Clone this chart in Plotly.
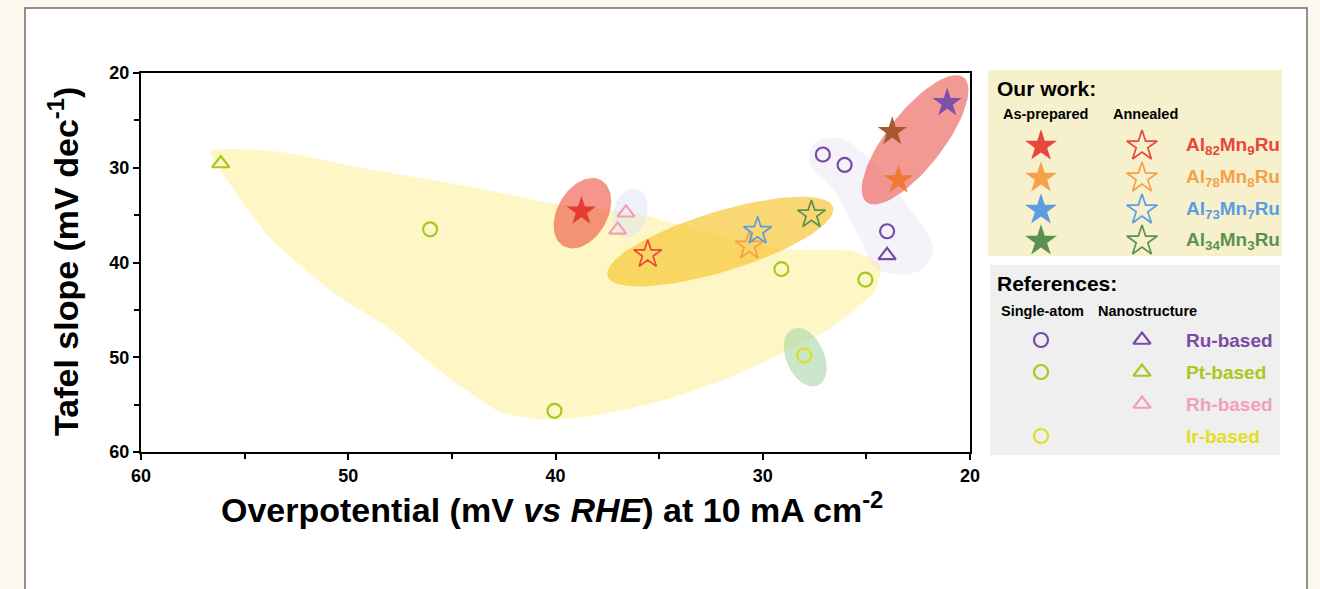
import numpy as np
import plotly.graph_objects as go

# ---------------- data ----------------
# Our work, as-prepared (filled stars)
prep_x = [38.75, 21.1, 23.75, 23.45]
prep_y = [34.6, 23.15, 26.2, 31.3]
prep_colors = ["#e63b30", "#7a52a8", "#a45a2e", "#f07a32"]

# Our work, annealed (open stars)
ann_x = [35.55, 30.65, 30.25, 27.65]
ann_y = [39.15, 38.25, 36.7, 34.95]
ann_colors = ["#e8473c", "#f5a04a", "#5a9de0", "#5b9250"]

# References
ru_single_x = [27.1, 26.05, 24.0]
ru_single_y = [28.6, 29.7, 36.7]
ru_nano_x = [24.0]
ru_nano_y = [39.25]
pt_single_x = [46.05, 29.1, 25.05, 40.05]
pt_single_y = [36.5, 40.7, 41.8, 55.65]
pt_nano_x = [56.15]
pt_nano_y = [29.55]
rh_nano_x = [36.6, 37.0]
rh_nano_y = [34.75, 36.55]
ir_single_x = [28.0]
ir_single_y = [49.8]

x_ticks = [60, 50, 40, 30, 20]
y_ticks = [20, 30, 40, 50, 60]

legend_alloys = ["Al<sub>82</sub>Mn<sub>9</sub>Ru", "Al<sub>78</sub>Mn<sub>8</sub>Ru",
                 "Al<sub>73</sub>Mn<sub>7</sub>Ru", "Al<sub>34</sub>Mn<sub>3</sub>Ru"]
legend_refs = ["Ru-based", "Pt-based", "Rh-based", "Ir-based"]
ref_colors = ["#7b4aa6", "#a8c820", "#f2a0b8", "#e0df22"]
ref_has_single = [True, True, False, True]
ref_has_nano = [True, True, True, False]

# ---------------- layout constants ----------------
W, H = 1320, 589
L, R, T, B = 141, 25, 60, 128
PW = W - L - R
PH = H - T - B
AX_L, AX_R, AX_T, AX_B = 141, 970, 73, 452
PX_X = (AX_R - AX_L) / 40.0
PX_Y = (AX_B - AX_T) / 40.0

FONT = "Liberation Sans, Arial, Helvetica, sans-serif"


def ellipse(cx, cy, a, b, ang, n=80):
    t = np.linspace(0, 2 * np.pi, n)
    th = np.deg2rad(ang)
    dx = a * np.cos(t) * np.cos(th) - b * np.sin(t) * np.sin(th)
    dy = a * np.cos(t) * np.sin(th) + b * np.sin(t) * np.cos(th)
    return cx - dx / PX_X, cy - dy / PX_Y


fig = go.Figure()

# ---------------- highlight regions ----------------
pt_region_x = [56.63, 53.35, 48.87, 44.05, 40.34, 36.0, 32.14, 28.77, 25.64, 24.34, 24.53,
               26.84, 31.8, 35.04, 38.27, 40.58, 42.75, 45.64, 48.19, 50.46, 53.69, 55.52, 56.63]
pt_region_y = [28.3, 28.3, 30.2, 32.0, 33.7, 34.9, 37.1, 38.6, 38.8, 40.2, 42.8,
               47.1, 52.3, 54.7, 56.2, 56.6, 55.7, 51.3, 46.7, 43.6, 37.6, 32.3, 28.3]
fig.add_trace(go.Scatter(x=pt_region_x, y=pt_region_y, mode="lines", fill="toself",
                         line=dict(width=0, shape="spline", smoothing=0.6),
                         fillcolor="rgba(253,240,150,0.55)", hoverinfo="skip", showlegend=False))

ru_region_x = [27.57, 26.36, 24.92, 23.23, 21.78, 22.51, 24.43, 25.4, 26.6, 27.71, 27.57]
ru_region_y = [27.58, 26.84, 28.95, 33.37, 38.63, 40.95, 40.74, 37.05, 32.3, 29.68, 27.58]
fig.add_trace(go.Scatter(x=ru_region_x, y=ru_region_y, mode="lines", fill="toself",
                         line=dict(width=0, shape="spline", smoothing=1),
                         fillcolor="rgba(225,218,240,0.35)", hoverinfo="skip", showlegend=False))

regions = [
    # (cx, cy, a_px, b_px, angle, color)
    (36.4, 34.8, 25, 17, 75, "rgba(215,225,245,0.45)"),
    (32.05, 37.8, 118, 30, 17, "rgba(246,200,60,0.72)"),
    (38.7, 34.8, 38, 25, 60, "rgba(238,85,65,0.62)"),
    (22.65, 27.05, 79, 28, 52, "rgba(236,90,80,0.62)"),
    (27.95, 50.0, 31, 19, -66, "rgba(160,210,160,0.55)"),
]
for cx, cy, a, b, ang, col in regions:
    ex, ey = ellipse(cx, cy, a, b, ang)
    fig.add_trace(go.Scatter(x=ex, y=ey, mode="lines", fill="toself", line=dict(width=0),
                             fillcolor=col, hoverinfo="skip", showlegend=False))

# ---------------- markers ----------------
def pts(x, y, symbol, color, size, lw=2, xa="x", ya="y"):
    fig.add_trace(go.Scatter(x=x, y=y, mode="markers", xaxis=xa, yaxis=ya, showlegend=False,
                             marker=dict(symbol=symbol, size=size, color=color,
                                         line=dict(width=lw, color=color))))

pts(prep_x, prep_y, "star", prep_colors, 22, 0)
pts(ann_x, ann_y, "star-open", ann_colors, 21, 1.7)
pts(ru_single_x, ru_single_y, "circle-open", ref_colors[0], 14, 2.2)
pts(ru_nano_x, ru_nano_y, "triangle-up-open", ref_colors[0], 15, 2.2)
pts(pt_single_x, pt_single_y, "circle-open", ref_colors[1], 14, 2.2)
pts(pt_nano_x, pt_nano_y, "triangle-up-open", ref_colors[1], 15, 2.2)
pts(rh_nano_x, rh_nano_y, "triangle-up-open", ref_colors[2], 15, 2.2)
pts(ir_single_x, ir_single_y, "circle-open", ref_colors[3], 14, 2.2)

# ---------------- legend (pixel overlay axes) ----------------
LX0 = 982
row_y1 = [146, 178, 210, 241]
row_y2 = [340, 372, 404, 436]
COL_A, COL_B, COL_T = 1041, 1142, 1184

pts([COL_A] * 4, row_y1, "star", ann_colors, 24, 0, "x2", "y2")
pts([COL_B] * 4, row_y1, "star-open", ann_colors, 23, 1.7, "x2", "y2")
for i in range(4):
    if ref_has_single[i]:
        pts([COL_A], [row_y2[i]], "circle-open", ref_colors[i], 14, 2.2, "x2", "y2")
    if ref_has_nano[i]:
        pts([COL_B], [row_y2[i]], "triangle-up-open", ref_colors[i], 15, 2.2, "x2", "y2")

ann = []
def txt(x, y, s, size, color="black", anchor="left"):
    ann.append(dict(x=x, y=y, xref="x2", yref="y2", text=s, showarrow=False, xanchor=anchor,
                    yanchor="middle", font=dict(family=FONT, size=size, color=color)))

txt(995, 88, "<b>Our work:</b>", 21)
txt(1045, 114, "<b>As-prepared</b>", 14.5, anchor="center")
txt(1145, 114, "<b>Annealed</b>", 14.5, anchor="center")
for i in range(4):
    txt(COL_T, row_y1[i], "<b>" + legend_alloys[i] + "</b>", 19, ann_colors[i])
txt(995, 283, "<b>References:</b>", 21)
txt(1042, 311, "<b>Single-atom</b>", 14.5, anchor="center")
txt(1147, 311, "<b>Nanostructure</b>", 14.5, anchor="center")
for i in range(4):
    txt(COL_T, row_y2[i], "<b>" + legend_refs[i] + "</b>", 19, ref_colors[i])

# axis titles
ann.append(dict(x=(552 - L) / PW, y=(T + PH - 507) / PH, xref="paper", yref="paper",
                text="<b>Overpotential (mV <i>vs RHE</i>) at 10 mA cm<sup>-2</sup></b>",
                showarrow=False, xanchor="center", yanchor="middle",
                font=dict(family=FONT, size=34, color="black")))
ann.append(dict(x=(63 - L) / PW, y=(T + PH - 262) / PH, xref="paper", yref="paper",
                text="<b>Tafel slope (mV dec<sup>-1</sup>)</b>", textangle=-90,
                showarrow=False, xanchor="center", yanchor="middle",
                font=dict(family=FONT, size=34, color="black")))

shapes = [
    dict(type="rect", xref="paper", yref="paper", layer="below",
         x0=(25 - L) / PW, x1=(1307 - L) / PW, y0=(T + PH - 640) / PH, y1=(T + PH - 8) / PH,
         fillcolor="white", line=dict(color="#6e6e6e", width=1.5)),
    dict(type="rect", xref="x2", yref="y2", layer="below", x0=988, x1=1282, y0=70, y1=256,
         fillcolor="#f7f0cc", line=dict(width=0)),
    dict(type="rect", xref="x2", yref="y2", layer="below", x0=990, x1=1280, y0=265, y1=455,
         fillcolor="#efefef", line=dict(width=0)),
]

axis_common = dict(showline=True, linecolor="black", linewidth=2, mirror=True,
                   ticks="outside", ticklen=6, tickwidth=1.8, tickcolor="black",
                   showgrid=False, zeroline=False,
                   tickfont=dict(family=FONT, size=18, color="black", weight="bold"),
                   minor=dict(dtick=5, ticks="outside", ticklen=5, tickwidth=1.5, tickcolor="black"))

fig.update_layout(
    width=W, height=H,
    margin=dict(l=L, r=R, t=T, b=B, pad=0),
    paper_bgcolor="#fdf8ee",
    plot_bgcolor="rgba(0,0,0,0)",
    showlegend=False,
    xaxis=dict(range=[60, 20], domain=[0, (AX_R - L) / PW], tickvals=x_ticks,
               anchor="y", **axis_common),
    yaxis=dict(range=[60, 20], domain=[(T + PH - AX_B) / PH, (T + PH - AX_T) / PH],
               tickvals=y_ticks, anchor="x", **axis_common),
    xaxis2=dict(range=[LX0, W - R], domain=[(LX0 - L) / PW, 1], visible=False, anchor="y2"),
    yaxis2=dict(range=[T + PH, T], domain=[0, 1], visible=False, anchor="x2"),
    annotations=ann,
    shapes=shapes,
)

fig.write_html("out.html")
